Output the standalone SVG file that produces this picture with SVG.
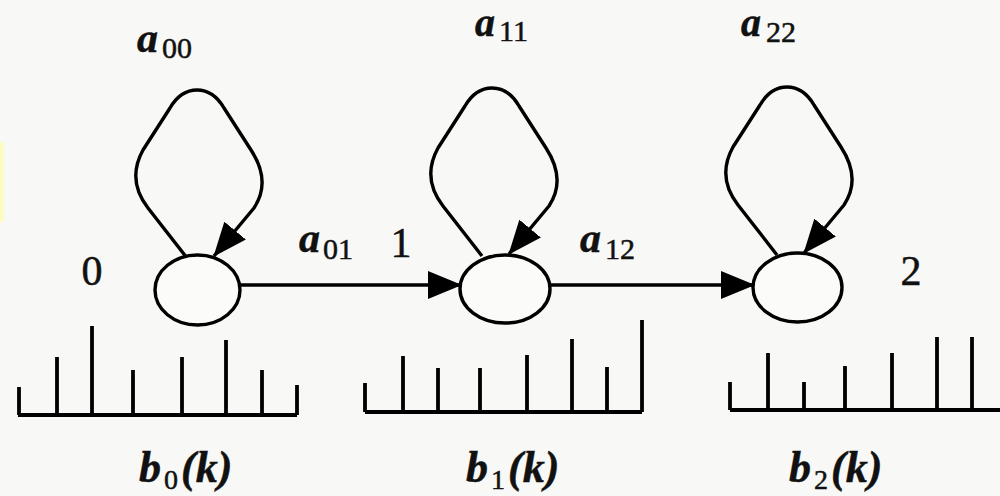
<svg xmlns="http://www.w3.org/2000/svg" width="1000" height="496" viewBox="0 0 1000 496">
  <style>
    .bg { fill: #f8f8f6; }
    .node { fill: #fbfbfa; stroke: #000; stroke-width: 3.4; }
    .edge { fill: none; stroke: #000; stroke-width: 3.4; stroke-linejoin: round; }
    .bar { fill: none; stroke: #000; stroke-width: 3.8; stroke-linecap: butt; }
    .lbl { font-family: "Liberation Serif", "DejaVu Serif", "Times New Roman", serif; fill: #111; stroke: #111; stroke-width: 0.5; }
    .it { font-style: italic; font-weight: bold; font-size: 42px; }
    .it2 { font-style: italic; font-weight: bold; font-size: 40px; }
    .sub { font-style: normal; font-weight: normal; font-size: 30px; }
    .sub2 { font-style: normal; font-weight: normal; font-size: 28px; }
    .num { font-size: 42px; }
    .bk { font-style: italic; font-weight: bold; font-size: 44px; }
  </style>
  <defs>
    <marker id="arrow" markerUnits="userSpaceOnUse" markerWidth="34" markerHeight="28" refX="33" refY="14" orient="auto">
      <path d="M0,0 L34,14 L0,28 Z" fill="#000"/>
    </marker>
  </defs>

  <rect class="bg" x="0" y="0" width="1000" height="496"/>
  <rect x="0" y="142" width="4" height="80" fill="#fdfbc4"/>

  <!-- connectors -->
  <g id="connectors">
    <path id="loop0" class="edge" marker-end="url(#arrow)" d="M187,258 L148,208 C134,190 132,170 143,150 L170,108 C184,84 210,84 224,108 L251,150 C264,170 266,190 254,208 L214,256"/>
    <path id="loop1" class="edge" marker-end="url(#arrow)" transform="translate(295,-2)" d="M187,258 L148,208 C134,190 132,170 143,150 L170,108 C184,84 210,84 224,108 L251,150 C264,170 266,190 254,208 L214,256"/>
    <path id="loop2" class="edge" marker-end="url(#arrow)" transform="translate(590,-3)" d="M187,258 L148,208 C134,190 132,170 143,150 L170,108 C184,84 210,84 224,108 L251,150 C264,170 266,190 254,208 L214,256"/>
    <line id="e01" class="edge" marker-end="url(#arrow)" x1="240" y1="285" x2="461" y2="285"/>
    <line id="e12" class="edge" marker-end="url(#arrow)" x1="550" y1="285" x2="754" y2="285"/>
    <text class="lbl it" x="137" y="52">a<tspan class="sub" x="162" y="58">00</tspan></text>
    <text class="lbl it2" x="475" y="36">a<tspan class="sub" x="499" y="41">11</tspan></text>
    <text class="lbl it2" x="741" y="36">a<tspan class="sub" x="766" y="42">22</tspan></text>
    <text class="lbl it" x="299" y="252">a<tspan class="sub" x="323" y="259">01</tspan></text>
    <text class="lbl it" x="580" y="252">a<tspan class="sub" x="605" y="259">12</tspan></text>
  </g>

  <!-- nodes -->
  <g id="node0">
    <ellipse class="node" cx="197.5" cy="290" rx="42.5" ry="35"/>
    <text class="lbl num" x="92" y="285" text-anchor="middle">0</text>
  </g>
  <g id="node1">
    <ellipse class="node" cx="505" cy="289" rx="45" ry="34"/>
    <text class="lbl num" x="401" y="257" text-anchor="middle">1</text>
  </g>
  <g id="node2">
    <ellipse class="node" cx="797.5" cy="287.5" rx="44.5" ry="34.5"/>
    <text class="lbl num" x="911" y="285" text-anchor="middle">2</text>
  </g>

  <!-- output distributions -->
  <g id="dist0">
    <path class="bar" d="M18,415 H297 M19,415 V387 M57,415 V357 M92,415 V326 M133,415 V370 M182,415 V357 M226,415 V340 M262,415 V370 M297,415 V385"/>
    <text class="lbl bk" x="139" y="482">b<tspan class="sub2" x="164" y="489">0</tspan><tspan x="181" y="482">(k)</tspan></text>
  </g>
  <g id="dist1">
    <path class="bar" d="M365,412 H642 M365,412 V383 M403,412 V356 M438,412 V368 M480,412 V368 M527,412 V355 M572,412 V339 M607,412 V367 M642,412 V320"/>
    <text class="lbl bk" x="466" y="482">b<tspan class="sub2" x="491" y="489">1</tspan><tspan x="508" y="482">(k)</tspan></text>
  </g>
  <g id="dist2">
    <path class="bar" d="M730,410 H1000 M730,410 V382 M768,410 V353 M804,410 V382 M845,410 V366 M892,410 V353 M937,410 V337 M972,410 V337"/>
    <text class="lbl bk" x="789" y="482">b<tspan class="sub2" x="814" y="489">2</tspan><tspan x="831" y="482">(k)</tspan></text>
  </g>
</svg>
